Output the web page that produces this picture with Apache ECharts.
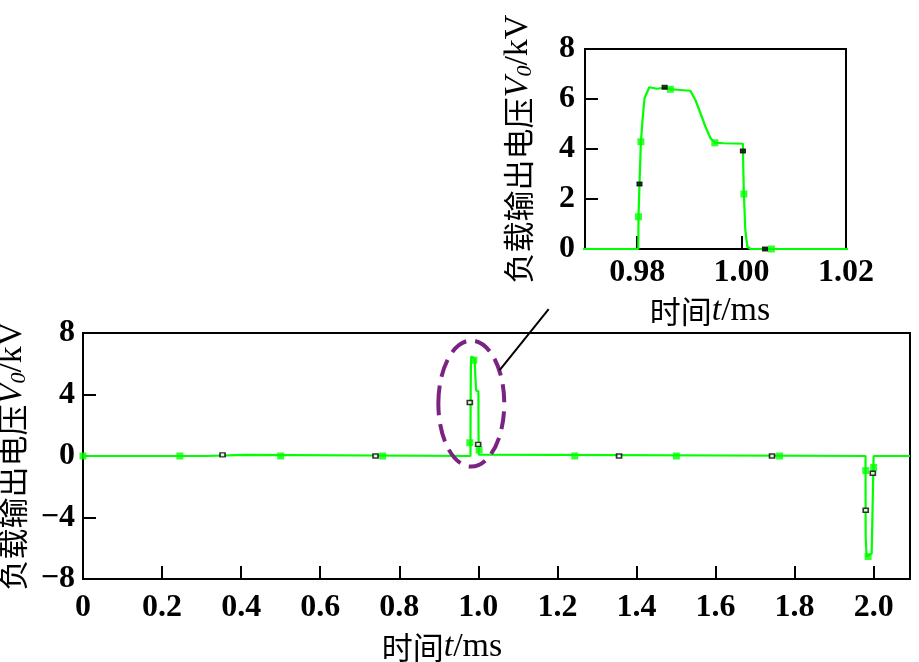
<!DOCTYPE html>
<html>
<head>
<meta charset="utf-8">
<script src="https://cdn.jsdelivr.net/npm/echarts@6/dist/echarts.min.js"></script>
<style>
html,body{margin:0;padding:0;background:#fff;}
#chart{width:919px;height:662px;}
</style>
</head>
<body>
<div id="chart"></div>
<script>
// ---- data (time in ms, voltage in kV) ----
const timeMs = [0, 0.313, 0.314, 0.410, 0.411, 0.9802, 0.98025, 0.98044, 0.98071, 0.98102, 0.9814, 0.98231, 0.98379, 0.98525, 0.98635, 0.99019, 0.99115, 0.99212, 0.99308, 0.99404, 0.99487, 0.9966, 1.00025, 1.00033, 1.00044, 1.00071, 1.0011, 1.00173, 1.9795, 1.9798, 1.9823, 1.9950, 1.9990, 2.0000, 2.092];
const voltageKV = [0, 0, 0.07, 0.07, 0, 0, 1.29, 2.6, 4.29, 5.16, 6.03, 6.47, 6.41, 6.45, 6.39, 6.33, 5.96, 5.43, 4.89, 4.43, 4.25, 4.23, 4.21, 3.16, 2.2, 0.76, 0.09, 0, 0, -5.2, -6.55, -6.35, -6.3, 0, 0];

const mainGreenMarkX = [0, 0.245, 0.50, 0.758, 0.9785, 0.9886, 1.002, 1.244, 1.501, 1.762, 1.980, 1.986, 2.000];
const mainGreenMarkY = [0, 0, 0, 0, 0.86, 6.23, 0.39, 0, 0, 0, -0.95, -6.54, -0.74];
const mainBlackMarkX = [0.353, 0.740, 0.9785, 0.9996, 1.356, 1.743, 1.980, 1.998];
const mainBlackMarkY = [0.07, 0, 3.48, 0.76, 0, 0, -3.53, -1.12];

const insetGreenMarkX = [0.98025, 0.98071, 0.98635, 0.99487, 1.00044, 1.00571];
const insetGreenMarkY = [1.29, 4.29, 6.39, 4.25, 2.2, 0];
const insetBlackMarkX = [0.98044, 0.98525, 1.00025, 1.00448];
const insetBlackMarkY = [2.6, 6.47, 3.92, 0];

const mainXTicks = [0, 0.2, 0.4, 0.6, 0.8, 1.0, 1.2, 1.4, 1.6, 1.8, 2.0];
const mainYTicks = [-8, -4, 0, 4, 8];
const insetXTicks = [0.98, 1.00, 1.02];
const insetYTicks = [0, 2, 4, 6, 8];

const xName = '{cn|时间}{it|t}{n|/ms}';
const yName = '{cn|负载输出电压}{it|V}{sub|0}{n|/kV}';

// ---- build ----
const zip = (a, b) => a.map((v, i) => [v, b[i]]);
const lineData = zip(timeMs, voltageKV);

const SERIF = '"Liberation Serif","DejaVu Serif",serif';
const CJK = '"Noto Sans CJK SC","Noto Sans CJK JP",sans-serif';
const rich = {
  cn: {fontFamily: CJK, fontSize: 31, color: '#000', lineHeight: 36},
  it: {fontFamily: SERIF, fontSize: 34, fontStyle: 'italic', color: '#000', lineHeight: 36},
  sub: {fontFamily: SERIF, fontSize: 22, fontStyle: 'italic', color: '#000', lineHeight: 20, verticalAlign: 'bottom'},
  n: {fontFamily: SERIF, fontSize: 34, color: '#000', lineHeight: 36}
};
const labelStyle = {fontFamily: SERIF, fontSize: 32, fontWeight: 'bold', color: '#000'};
const axisLine = {show: true, onZero: false, lineStyle: {color: '#000', width: 2}};
const axisTick = {show: true, inside: true, length: 13, lineStyle: {color: '#000', width: 2}};
const fmtSigned = v => (v < 0 ? '\u2212' + Math.abs(v) : String(v));

const chart = echarts.init(document.getElementById('chart'), null, {renderer: 'canvas'});
chart.setOption({
  animation: false,
  backgroundColor: '#fff',
  grid: [
    {left: 83, right: 9, top: 333, bottom: 83, show: true, borderColor: '#000', borderWidth: 2,
     containLabel: false, outerBoundsMode: 'none'},
    {left: 585, width: 261, top: 49, height: 200, show: true, borderColor: '#000', borderWidth: 2,
     containLabel: false, outerBoundsMode: 'none'}
  ],
  xAxis: [
    {
      type: 'value', gridIndex: 0, min: mainXTicks[0], max: 2.092, interval: 0.2,
      axisLine, axisTick, splitLine: {show: false},
      axisLabel: Object.assign({}, labelStyle, {margin: 13, showMaxLabel: false,
        formatter: v => (v === 0 ? '0' : v.toFixed(1))}),
      name: xName, nameLocation: 'middle', nameGap: 50,
      nameTextStyle: {rich, padding: [0, 109, 0, 0]}
    },
    {
      type: 'value', gridIndex: 1, min: 0.97, max: insetXTicks[2],
      minInterval: 0.02, maxInterval: 0.02,
      axisLine, axisTick, splitLine: {show: false},
      axisLabel: Object.assign({}, labelStyle, {margin: 8, showMinLabel: false,
        formatter: v => (insetXTicks.some(t => Math.abs(t - v) < 1e-6) ? v.toFixed(2) : '')}),
      name: xName, nameLocation: 'middle', nameGap: 44,
      nameTextStyle: {rich, padding: [0, 11, 0, 0]}
    }
  ],
  yAxis: [
    {
      type: 'value', gridIndex: 0, min: mainYTicks[0], max: mainYTicks[4], interval: 4,
      axisLine, axisTick, splitLine: {show: false},
      axisLabel: Object.assign({}, labelStyle, {margin: 8, formatter: fmtSigned}),
      name: yName, nameLocation: 'middle', nameRotate: 90, nameGap: 46,
      nameTextStyle: {rich}
    },
    {
      type: 'value', gridIndex: 1, min: insetYTicks[0], max: insetYTicks[4], interval: 2,
      axisLine, axisTick, splitLine: {show: false},
      axisLabel: Object.assign({}, labelStyle, {margin: 10}),
      name: yName, nameLocation: 'middle', nameRotate: 90, nameGap: 49,
      nameTextStyle: {rich}
    }
  ],
  series: [
    {type: 'line', xAxisIndex: 0, yAxisIndex: 0, data: lineData, showSymbol: false, symbol: 'none',
     lineStyle: {color: '#00ff00', width: 2.2}, clip: true, z: 2},
    {type: 'scatter', xAxisIndex: 0, yAxisIndex: 0, data: zip(mainGreenMarkX, mainGreenMarkY),
     symbol: 'rect', symbolSize: 7, itemStyle: {color: '#00ff00'}, z: 3},
    {type: 'scatter', xAxisIndex: 0, yAxisIndex: 0, data: zip(mainBlackMarkX, mainBlackMarkY),
     symbol: 'rect', symbolSize: [5, 4], itemStyle: {color: '#fff', borderColor: '#000', borderWidth: 1.5}, z: 4},
    {type: 'line', xAxisIndex: 1, yAxisIndex: 1, data: lineData, showSymbol: false, symbol: 'none',
     lineStyle: {color: '#00ff00', width: 2.2}, clip: true, z: 2},
    {type: 'scatter', xAxisIndex: 1, yAxisIndex: 1, data: zip(insetGreenMarkX, insetGreenMarkY),
     symbol: 'rect', symbolSize: 7, itemStyle: {color: '#00ff00'}, z: 3},
    {type: 'scatter', xAxisIndex: 1, yAxisIndex: 1, data: zip(insetBlackMarkX, insetBlackMarkY),
     symbol: 'rect', symbolSize: [5, 4], itemStyle: {color: '#000', borderColor: '#000', borderWidth: 1}, z: 4}
  ]
});

// ---- annotation (dashed ellipse around the pulse + leader line), placed in data units ----
const annot = {cx: 0.9823, cy: 3.41, rx: 0.0834, ry: 4.1, lx1: 1.054, ly1: 5.59, lx2: 1.178, ly2: 9.56};
const f = {xAxisIndex: 0, yAxisIndex: 0};
const c = chart.convertToPixel(f, [annot.cx, annot.cy]);
const e = chart.convertToPixel(f, [annot.cx + annot.rx, annot.cy + annot.ry]);
const p1 = chart.convertToPixel(f, [annot.lx1, annot.ly1]);
const p2 = chart.convertToPixel(f, [annot.lx2, annot.ly2]);
chart.setOption({
  graphic: [
    {type: 'ellipse', z: 10, shape: {cx: c[0], cy: c[1], rx: Math.abs(e[0] - c[0]), ry: Math.abs(c[1] - e[1])},
     style: {fill: 'none', stroke: '#7b2382', lineWidth: 4, lineDash: [18, 9]}},
    {type: 'line', z: 10, shape: {x1: p1[0], y1: p1[1], x2: p2[0], y2: p2[1]},
     style: {stroke: '#000', lineWidth: 2}}
  ]
});
</script>
</body>
</html>
